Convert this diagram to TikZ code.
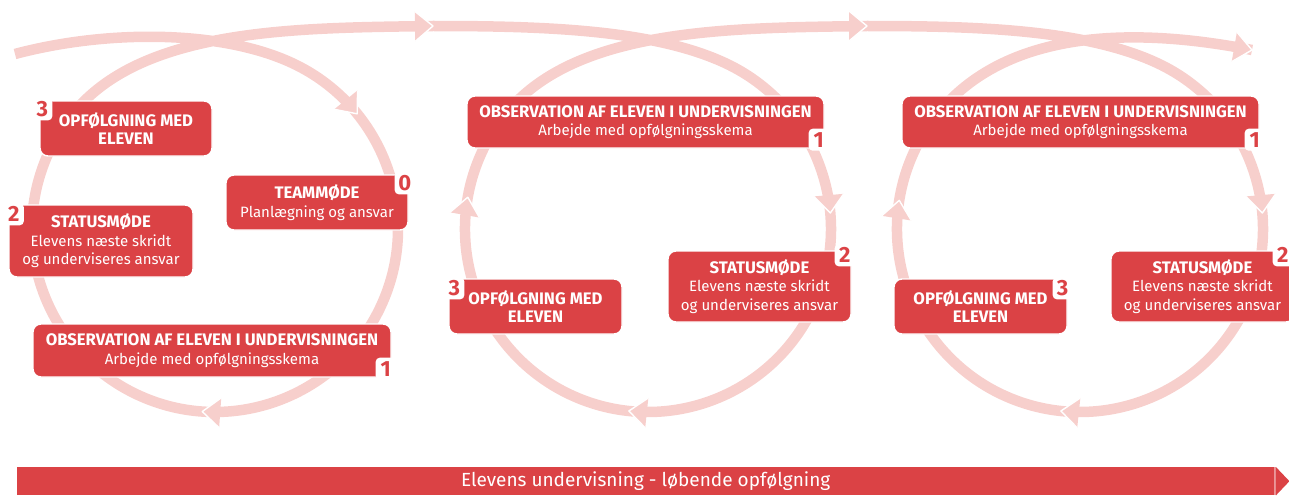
\documentclass[tikz,border=0pt]{standalone}
\usepackage{fontspec}
\setmainfont{Fira Sans}
\usetikzlibrary{calc}
\definecolor{boxred}{HTML}{DB4245}
\definecolor{coilc}{HTML}{F7CFCC}
% arrowhead: #1 tip coordinate, #2 direction (xy angle, y downwards)
\newcommand{\ahead}[2]{%
  \fill[coilc] ($(#1)+(#2+180:18)+(#2+90:15)$) -- (#1) -- ($(#1)+(#2+180:18)+(#2-90:15)$) -- cycle;
  \draw[white,line width=1.4pt,line join=round] ($(#1)+(#2+180:18)+(#2+90:15)$) -- (#1) -- ($(#1)+(#2+180:18)+(#2-90:15)$);
}
\newcommand{\hd}[1]{{\fontsize{16.7}{18.5}\selectfont\bfseries #1}}
\tikzset{
  coil/.style={draw=coilc, line width=10.5pt, line cap=butt, line join=round},
  box/.style={fill=boxred, draw=white, line width=1.4pt, rounded corners=8pt, text=white,
    align=center, inner sep=0pt, font=\fontsize{15}{18.5}\selectfont},
  badge/.style={fill=white, rounded corners=4pt, minimum width=20pt, minimum height=22pt,
    inner sep=0pt, text=boxred, font=\fontsize{22}{22}\selectfont\bfseries},
}
\begin{document}
\begin{tikzpicture}[x=1pt,y=-1pt]
\useasboundingbox (0,0) rectangle (1289,495);
\clip (0,0) rectangle (1289,495);
% circle centres
\coordinate (C1) at (215,229);
\coordinate (C2) at (648,229);
\coordinate (C3) at (1080,229);
% the coil
\draw[coil] (15,54) .. controls (105,30) and (219.8,29.3) .. (292.3,63.1)
  arc[start angle=-65, end angle=220, radius=183]
  .. controls (145.5,27.1) and (300,28) .. (433,26)
  .. controls (543,26) and (652.8,29.3) .. (725.3,63.1)
  arc[start angle=-65, end angle=220, radius=183]
  .. controls (578.5,27.1) and (733,28) .. (867,26)
  .. controls (977,26) and (1084.8,29.3) .. (1157.3,63.1)
  arc[start angle=-65, end angle=220, radius=183]
  .. controls (1010.5,27.1) and (1140,28) .. (1252,50);
% arrow tips
\coordinate (t1) at (433,26);
\coordinate (t2) at (867,26);
\coordinate (t3) at (1252,50);
\coordinate (a1) at ($(C1)+(-39:183)$);
\coordinate (a2) at ($(C1)+(94:183)$);
\coordinate (b1) at ($(C2)+(-5:183)$);
\coordinate (b2) at ($(C2)+(96:183)$);
\coordinate (b3) at ($(C2)+(-170:183)$);
\coordinate (c1) at ($(C3)+(-5:183)$);
\coordinate (c2) at ($(C3)+(96:183)$);
\coordinate (c3) at ($(C3)+(-171:183)$);
\ahead{t1}{-1}
\ahead{t2}{0}
\ahead{t3}{10}
\ahead{a1}{51}
\ahead{a2}{184}
\ahead{b1}{85}
\ahead{b2}{186}
\ahead{b3}{-80}
\ahead{c1}{85}
\ahead{c2}{186}
\ahead{c3}{-81}
% cycle 1
\node[box, minimum width=172, minimum height=55] (opf1) at (126,128.5)
  {\hd{OPFØLGNING MED}\\\hd{ELEVEN}};
\node[box, minimum width=182, minimum height=55] (team) at (317,202.5)
  {\hd{TEAMMØDE}\\Planlægning og ansvar};
\node[box, minimum width=184, minimum height=72] (stat1) at (101,241)
  {\hd{STATUSMØDE}\\Elevens næste skridt\\og underviseres ansvar};
\node[box, minimum width=358, minimum height=53] (obs1) at (212,350.5)
  {\hd{OBSERVATION AF ELEVEN I UNDERVISNINGEN}\\Arbejde med opfølgningsskema};
\node[badge] (n13) at ($(opf1.north west)+(3,9)$) {3};
\node[badge] (n10) at ($(team.north east)+(-4,9)$) {0};
\node[badge] (n12) at ($(stat1.north west)+(5.5,10)$) {2};
\node[badge] (n11) at ($(obs1.south east)+(-6,-9)$) {1};
% cycle 2
\node[box, minimum width=357, minimum height=52] (obs2) at (645.5,122)
  {\hd{OBSERVATION AF ELEVEN I UNDERVISNINGEN}\\Arbejde med opfølgningsskema};
\node[box, minimum width=183, minimum height=71] (stat2) at (759.5,286.5)
  {\hd{STATUSMØDE}\\Elevens næste skridt\\og underviseres ansvar};
\node[box, minimum width=173, minimum height=55] (opf2) at (535.5,306.5)
  {\hd{OPFØLGNING MED}\\\hd{ELEVEN}};
\node[badge] (n21) at ($(obs2.south east)+(-6,-9)$) {1};
\node[badge] (n22) at ($(stat2.north east)+(-7,5)$) {2};
\node[badge] (n23) at ($(opf2.north west)+(6,10)$) {3};
% cycle 3
\node[box, minimum width=357, minimum height=52] (obs3) at (1080.5,122)
  {\hd{OBSERVATION AF ELEVEN I UNDERVISNINGEN}\\Arbejde med opfølgningsskema};
\node[box, minimum width=183, minimum height=71] (stat3) at (1202.5,286.5)
  {\hd{STATUSMØDE}\\Elevens næste skridt\\og underviseres ansvar};
\node[box, minimum width=173, minimum height=55] (opf3) at (980.5,306.5)
  {\hd{OPFØLGNING MED}\\\hd{ELEVEN}};
\node[badge] (n31) at ($(obs3.south east)+(-5,-9)$) {1};
\node[badge] (n32) at ($(stat3.north east)+(-12,5)$) {2};
\node[badge] (n33) at ($(opf3.north east)+(-5,10)$) {3};
% bottom bar
\node[fill=boxred, minimum width=1257, minimum height=28, inner sep=0pt, anchor=north west,
  text=white, font=\fontsize{19}{19}\selectfont] (bar) at (17,467)
  {Elevens undervisning - løbende opfølgning};
\fill[boxred!55] (bar.north east) rectangle ($(bar.south east)+(1.5,0)$);
\fill[boxred] ($(bar.north east)+(1.5,0)$) -- ($(bar.east)+(15,0)$) -- ($(bar.south east)+(1.5,0)$) -- cycle;
\end{tikzpicture}
\end{document}
